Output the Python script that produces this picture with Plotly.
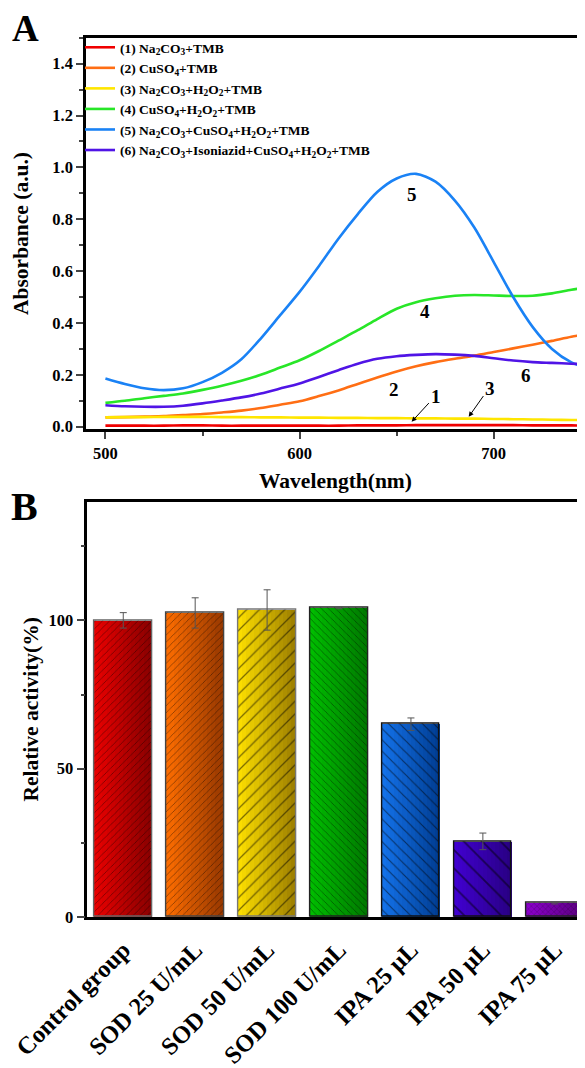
import plotly.graph_objects as go

# ---------------- Panel A data ----------------
wavelength = [500, 510, 520, 530, 540, 550, 560, 570, 580, 590, 600, 610, 620,
              630, 640, 650, 660, 670, 680, 690, 700, 710, 720, 730, 740, 750]
abs_1 = [0.004, 0.004, 0.004, 0.004, 0.005, 0.005, 0.004, 0.004, 0.004, 0.004, 0.004, 0.004, 0.004,
         0.005, 0.005, 0.005, 0.006, 0.006, 0.006, 0.006, 0.006, 0.006, 0.005, 0.005, 0.005, 0.004]
abs_2 = [0.036, 0.037, 0.039, 0.041, 0.045, 0.049, 0.055, 0.062, 0.072, 0.085, 0.098, 0.118, 0.140,
         0.165, 0.190, 0.213, 0.233, 0.249, 0.262, 0.274, 0.288, 0.302, 0.316, 0.331, 0.347, 0.360]
abs_3 = [0.036, 0.037, 0.037, 0.038, 0.038, 0.038, 0.037, 0.037, 0.036, 0.036, 0.035, 0.035, 0.034,
         0.034, 0.033, 0.033, 0.032, 0.032, 0.031, 0.031, 0.030, 0.029, 0.028, 0.027, 0.026, 0.025]
abs_4 = [0.092, 0.100, 0.110, 0.119, 0.128, 0.142, 0.158, 0.177, 0.200, 0.228, 0.256, 0.292, 0.332,
         0.372, 0.415, 0.455, 0.480, 0.495, 0.505, 0.508, 0.506, 0.504, 0.505, 0.514, 0.528, 0.540]
abs_5 = [0.186, 0.165, 0.148, 0.141, 0.148, 0.172, 0.208, 0.260, 0.340, 0.430, 0.520, 0.620, 0.725,
         0.820, 0.905, 0.957, 0.975, 0.945, 0.872, 0.768, 0.635, 0.500, 0.385, 0.300, 0.248, 0.222]
abs_6 = [0.083, 0.079, 0.077, 0.077, 0.081, 0.090, 0.101, 0.113, 0.128, 0.147, 0.167, 0.192, 0.218,
         0.243, 0.262, 0.272, 0.277, 0.280, 0.278, 0.273, 0.264, 0.255, 0.249, 0.246, 0.243, 0.240]
series_names = [
    "(1) Na<sub>2</sub>CO<sub>3</sub>+TMB",
    "(2) CuSO<sub>4</sub>+TMB",
    "(3) Na<sub>2</sub>CO<sub>3</sub>+H<sub>2</sub>O<sub>2</sub>+TMB",
    "(4) CuSO<sub>4</sub>+H<sub>2</sub>O<sub>2</sub>+TMB",
    "(5) Na<sub>2</sub>CO<sub>3</sub>+CuSO<sub>4</sub>+H<sub>2</sub>O<sub>2</sub>+TMB",
    "(6) Na<sub>2</sub>CO<sub>3</sub>+Isoniazid+CuSO<sub>4</sub>+H<sub>2</sub>O<sub>2</sub>+TMB",
]
a_ticks = [0.0, 0.2, 0.4, 0.6, 0.8, 1.0, 1.2, 1.4]
a_xticks = [500, 600, 700]

# ---------------- Panel B data ----------------
categories = ["Control group", "SOD 25 U/mL", "SOD 50 U/mL", "SOD 100 U/mL",
              "IPA 25 μL", "IPA 50 μL", "IPA 75 μL"]
activity = [100.0, 102.5, 103.5, 104.2, 65.0, 25.5, 4.7]
activity_err = [2.6, 5.1, 6.8, 0.3, 2.1, 2.8, 0.3]
b_ticks = [0, 50, 100]

# ---------------- styles ----------------
FONT = "Liberation Serif"
line_colors = ["#f00000", "#ff6e14", "#ffe600", "#28e628", "#1a82f5", "#5014e6"]
bar_left = [(235, 0, 0), (255, 110, 0), (255, 225, 0), (0, 190, 0), (20, 115, 235), (65, 0, 210), (140, 0, 205)]
bar_right = [(135, 0, 0), (150, 55, 0), (155, 125, 0), (0, 120, 0), (0, 60, 145), (40, 0, 130), (90, 0, 125)]
bar_lines = ["#666666", "#444444", "#777777", "#222222", "#111111", "#111111", "#222222"]
hatch = ["/", "/", "/", "\\", "\\", "\\", "x"]
hatch_size = [5, 5, 9, 5, 8, 13, 4]

fig = go.Figure()

abs_all = [abs_1, abs_2, abs_3, abs_4, abs_5, abs_6]
for name, ys, col in zip(series_names, abs_all, line_colors):
    fig.add_trace(go.Scatter(
        x=wavelength, y=ys, name=name, mode="lines",
        line=dict(color=col, width=2.6, shape="spline", smoothing=0.8),
        xaxis="x", yaxis="y"))

# gradient bars made of thin slices
NS = 14
BW = 0.8
for k in range(NS):
    t = (k + 0.5) / NS
    cols = []
    for l, r in zip(bar_left, bar_right):
        c = tuple(int(round(l[j] + (r[j] - l[j]) * t)) for j in range(3))
        cols.append("rgb(%d,%d,%d)" % c)
    fig.add_trace(go.Bar(
        x=list(range(len(categories))), y=activity,
        width=BW / NS + 0.004, offset=-BW / 2 + k * BW / NS,
        marker=dict(color=cols, line=dict(width=0)),
        showlegend=False, hoverinfo="skip", xaxis="x2", yaxis="y2"))

# hatch overlay, outline and error bars
fig.add_trace(go.Bar(
    x=list(range(len(categories))), y=activity,
    width=BW, offset=-BW / 2,
    marker=dict(color="rgba(0,0,0,0)",
                line=dict(color=bar_lines, width=1.4),
                pattern=dict(shape=hatch, size=hatch_size, solidity=0.14,
                             fgcolor="#000000", bgcolor="rgba(0,0,0,0)", fillmode="overlay")),
    error_y=dict(type="data", array=activity_err, visible=True,
                 color="#555555", thickness=1, width=3.5),
    showlegend=False, xaxis="x2", yaxis="y2"))

axis_font = dict(family=FONT, size=16.5, color="black", weight="bold")
title_font = dict(family=FONT, size=21.5, color="black", weight="bold")

# page body has an 8px margin: the figure is sized to fill the rest of the window
OFF = 8
W, H = 585 - OFF, 1068 - OFF


def px(v):
    return (v - OFF) / W


def py(v):
    return 1 - (v - OFF) / H


fig.update_layout(
    width=W, height=H,
    margin=dict(l=0, r=0, t=0, b=0, autoexpand=False),
    paper_bgcolor="white", plot_bgcolor="white",
    barmode="overlay", bargap=0,
    font=dict(family=FONT, color="black"),
    showlegend=True,
    legend=dict(x=px(80), y=py(32), xanchor="left", yanchor="top",
                bgcolor="rgba(0,0,0,0)", borderwidth=0,
                font=dict(family=FONT, size=13.5, color="black", weight="bold"),
                itemwidth=30, tracegroupgap=0),
    xaxis=dict(domain=[px(86), 1], range=[490, 747], anchor="y", automargin=False,
               tickmode="array", tickvals=a_xticks, ticks="outside", ticklen=7, tickwidth=2,
               minor=dict(tickmode="linear", tick0=500, dtick=50, ticks="outside", ticklen=4, tickwidth=2),
               showline=True, linewidth=2.6, linecolor="black", mirror=True,
               showgrid=False, zeroline=False, tickfont=axis_font,
               title=dict(text="Wavelength(nm)", font=title_font, standoff=12)),
    yaxis=dict(domain=[py(429.3), py(37.7)], range=[-0.01, 1.5], anchor="x", automargin=False,
               tickmode="array", tickvals=a_ticks, tickformat=".1f",
               ticks="outside", ticklen=7, tickwidth=2,
               minor=dict(tickmode="linear", tick0=0, dtick=0.1, ticks="outside", ticklen=4, tickwidth=2),
               showline=True, linewidth=2.6, linecolor="black",
               showgrid=False, zeroline=False, tickfont=axis_font,
               title=dict(text="Absorbance (a.u.)", font=title_font, standoff=18)),
    xaxis2=dict(domain=[px(87.3), 1], range=[-0.5, 6.42], anchor="y2", automargin=False,
                tickmode="array", tickvals=list(range(len(categories))), ticktext=categories,
                tickangle=-45, ticks="", ticklabelstandoff=6,
                showline=True, linewidth=2.6, linecolor="black", mirror=True,
                showgrid=False, zeroline=False,
                tickfont=dict(family=FONT, size=24.5, color="black", weight="bold")),
    yaxis2=dict(domain=[py(917), py(501.7)], range=[0, 140], anchor="x2", automargin=False,
                tickmode="array", tickvals=b_ticks, ticks="outside", ticklen=8, tickwidth=2,
                minor=dict(tickmode="linear", tick0=0, dtick=25, ticks="outside", ticklen=4, tickwidth=2),
                showline=True, linewidth=2.6, linecolor="black",
                showgrid=False, zeroline=False, tickfont=axis_font,
                title=dict(text="Relative activity(%)", font=title_font, standoff=4)),
)

num_font = dict(family=FONT, size=19, color="black", weight="bold")
labels = [("5", 657.7, 0.897), ("4", 664.4, 0.445), ("2", 648.5, 0.144),
          ("6", 716.7, 0.199), ("1", 670.5, 0.117), ("3", 698.0, 0.146)]
for txt, lx, ly in labels:
    fig.add_annotation(x=lx, y=ly, xref="x", yref="y", text=txt, showarrow=False, font=num_font)
arrows = [(667.3, 0.097, 657.7, 0.019), (695.2, 0.124, 687.1, 0.038)]
for tx, ty, hx, hy in arrows:
    fig.add_annotation(x=hx, y=hy, ax=tx, ay=ty, xref="x", yref="y", axref="x", ayref="y",
                       text="", showarrow=True, arrowhead=2, arrowsize=1, arrowwidth=1,
                       arrowcolor="black", standoff=0, startstandoff=0)

fig.add_annotation(x=px(25.5), y=py(28.5), xref="paper", yref="paper", text="A",
                   showarrow=False, xanchor="center", yanchor="middle",
                   font=dict(family=FONT, size=37, color="black", weight="bold"))
fig.add_annotation(x=px(24), y=py(506), xref="paper", yref="paper", text="B",
                   showarrow=False, xanchor="center", yanchor="middle",
                   font=dict(family=FONT, size=40, color="black", weight="bold"))

fig.write_html("out.html")
